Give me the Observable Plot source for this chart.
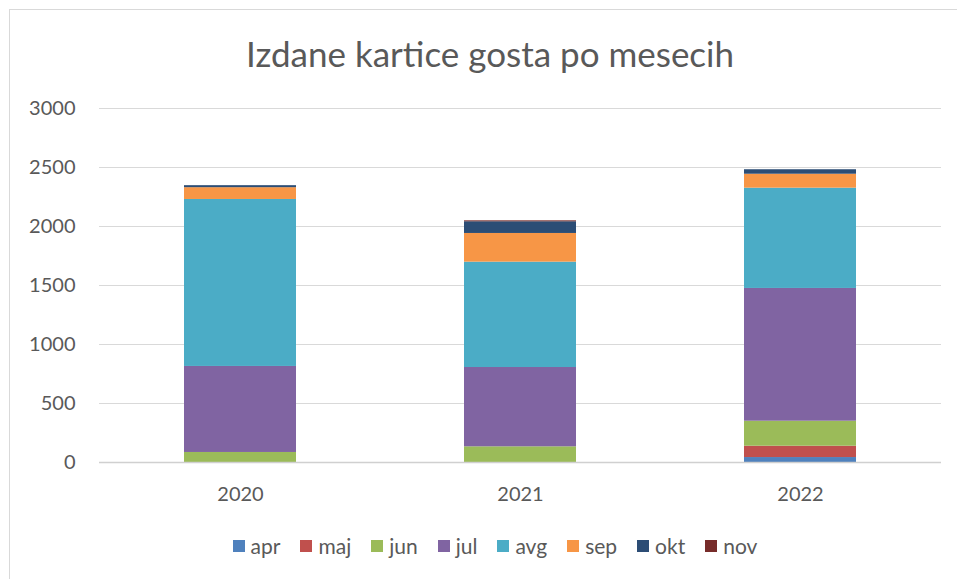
<!DOCTYPE html>
<html>
<head>
<meta charset="utf-8">
<script src="https://cdn.jsdelivr.net/npm/d3@7"></script>
<script src="https://cdn.jsdelivr.net/npm/@observablehq/plot@0.6"></script>
<style>
  html, body { margin: 0; padding: 0; background: #fff; }
  #wrap { position: relative; width: 957px; height: 579px; overflow: hidden; font-family: Lato, "Open Sans", sans-serif; }
  #frame { position: absolute; left: 9px; top: 9px; width: 1000px; height: 700px; border-left: 1.5px solid #d9d9d9; border-top: 1.5px solid #d9d9d9; }
  #title { position: absolute; left: 0; top: 32px; width: 980px; text-align: center; font-size: 35px; color: #595959; }
  #chart { position: absolute; left: 0; top: 0; }
  #legend { position: absolute; left: 0; top: 533px; width: 990px; display: flex; justify-content: center; gap: 20px; font-size: 21px; color: #595959; }
  .item { display: flex; align-items: center; gap: 6px; }
  .sw { width: 12px; height: 12px; display: inline-block; }
</style>
</head>
<body>
<div id="wrap">
  <div id="frame"></div>
  <div id="chart"></div>
  <div id="title">Izdane kartice gosta po mesecih</div>
  <div id="legend"></div>
</div>
<script>
const years = ["2020", "2021", "2022"];
const months = ["apr", "maj", "jun", "jul", "avg", "sep", "okt", "nov"];
const colors = ["#4F81BD", "#C0504D", "#9BBB59", "#8064A2", "#4BACC6", "#F79646", "#2C4D75", "#772C2A"];
const apr = [0, 0, 42];
const maj = [0, 0, 96];
const jun = [85, 133, 212];
const jul = [729, 672, 1125];
const avg = [1415, 893, 850];
const sep = [100, 243, 118];
const okt = [17, 99, 38];
const nov = [0, 8, 0];
const yTicks = [0, 500, 1000, 1500, 2000, 2500, 3000];

const series = [apr, maj, jun, jul, avg, sep, okt, nov];
const rows = [];
years.forEach((y, i) => {
  months.forEach((m, j) => rows.push({year: y, month: m, value: series[j][i]}));
});

const plot = Plot.plot({
  width: 957,
  height: 579,
  marginLeft: 99,
  marginRight: 16,
  marginTop: 108,
  marginBottom: 117,
  style: {fontFamily: "Lato, 'Open Sans', sans-serif", fontSize: "20px", color: "#595959", background: "transparent"},
  x: {domain: years, paddingInner: 0.6, paddingOuter: 0.3, label: null, tickSize: 0, tickPadding: 24},
  y: {domain: [0, 3000], ticks: yTicks, tickFormat: d => String(d), label: null, tickSize: 0, tickPadding: 24, grid: false},
  color: {domain: months, range: colors},
  marks: [
    Plot.ruleY(yTicks, {stroke: "#d9d9d9", strokeWidth: 1.2}),
    Plot.barY(rows, {x: "year", y: "value", fill: "month", order: months}),
    Plot.ruleY([0], {stroke: "#d0d0d0", strokeWidth: 1.5})
  ]
});
document.getElementById("chart").appendChild(plot);

const legend = document.getElementById("legend");
months.forEach((m, i) => {
  const it = document.createElement("div");
  it.className = "item";
  const sw = document.createElement("span");
  sw.className = "sw";
  sw.style.background = colors[i];
  const t = document.createElement("span");
  t.textContent = m;
  it.appendChild(sw);
  it.appendChild(t);
  legend.appendChild(it);
});
</script>
</body>
</html>
